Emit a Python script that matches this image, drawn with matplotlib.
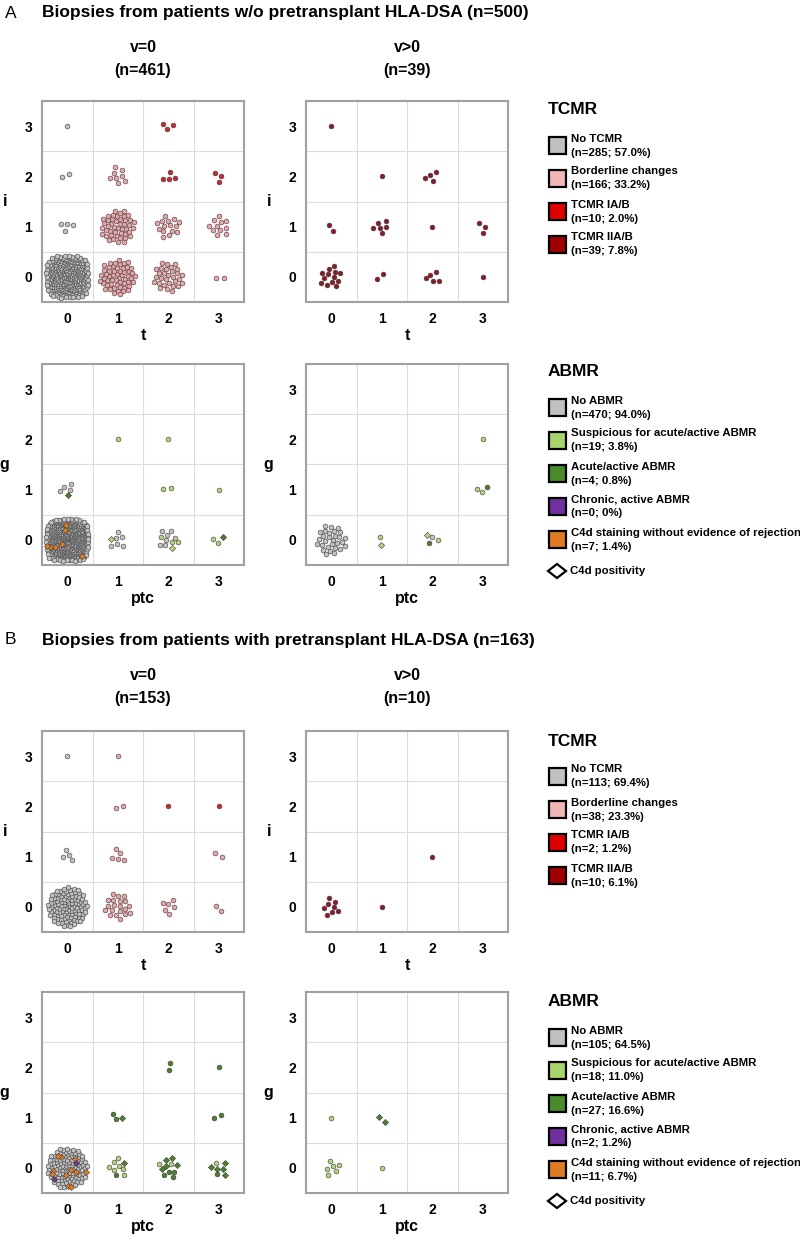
import numpy as np
import matplotlib
matplotlib.use("Agg")
import matplotlib.pyplot as plt
from matplotlib.patches import Rectangle, Polygon

plt.rcParams['font.family'] = ['Liberation Sans', 'DejaVu Sans']

# ---------------- data ----------------
TICKS = [0, 1, 2, 3]

TCMR_LABELS = ["No TCMR", "Borderline changes", "TCMR IA/B", "TCMR IIA/B"]
TCMR_N_A = [285, 166, 10, 39]
TCMR_PCT_A = ["57.0%", "33.2%", "2.0%", "7.8%"]
TCMR_N_B = [113, 38, 2, 10]
TCMR_PCT_B = ["69.4%", "23.3%", "1.2%", "6.1%"]

ABMR_LABELS = ["No ABMR", "Suspicious for acute/active ABMR", "Acute/active ABMR",
               "Chronic, active ABMR", "C4d staining without evidence of rejection"]
ABMR_N_A = [470, 19, 4, 0, 7]
ABMR_PCT_A = ["94.0%", "3.8%", "0.8%", "0%", "1.4%"]
ABMR_N_B = [105, 18, 27, 2, 11]
ABMR_PCT_B = ["64.5%", "11.0%", "16.6%", "1.2%", "6.7%"]

# TCMR cells: (t, i, category, count)
A_TCMR_V0 = [(0, 3, 0, 1), (0, 2, 0, 2), (0, 1, 0, 4), (0, 0, 0, 278),
             (1, 2, 1, 8), (1, 1, 1, 45), (1, 0, 1, 55), (2, 1, 1, 15), (2, 0, 1, 30),
             (3, 1, 1, 11), (3, 0, 1, 2),
             (2, 3, 2, 3), (2, 2, 2, 4), (3, 2, 2, 3)]
A_TCMR_V1 = [(0, 3, 3, 1), (1, 2, 3, 1), (2, 2, 3, 4), (0, 1, 3, 2), (1, 1, 3, 6),
             (2, 1, 3, 1), (3, 1, 3, 3), (0, 0, 3, 13), (1, 0, 3, 2), (2, 0, 3, 5),
             (3, 0, 3, 1)]
B_TCMR_V0 = [(0, 3, 0, 1), (0, 1, 0, 4), (0, 0, 0, 108),
             (1, 3, 1, 1), (1, 2, 1, 2), (1, 1, 1, 5), (3, 1, 1, 2), (1, 0, 1, 20),
             (2, 0, 1, 6), (3, 0, 1, 2),
             (2, 2, 2, 1), (3, 2, 2, 1)]
B_TCMR_V1 = [(0, 0, 3, 8), (1, 0, 3, 1), (2, 1, 3, 1)]

# ABMR cells: (ptc, g, category, circles, diamonds[C4d positive])
A_ABMR_V0 = [(0, 1, 0, 4, 0), (0, 1, 2, 0, 1),
             (0, 0, 0, 423, 0), (0, 0, 4, 0, 7),
             (1, 0, 0, 6, 0), (1, 0, 1, 0, 1),
             (2, 0, 0, 7, 0), (2, 0, 1, 3, 1),
             (3, 0, 1, 2, 0), (3, 0, 2, 0, 1),
             (1, 2, 1, 1, 0), (2, 2, 1, 1, 0), (2, 1, 1, 2, 0), (3, 1, 1, 1, 0)]
A_ABMR_V1 = [(0, 0, 0, 29, 0), (2, 0, 0, 1, 0), (2, 0, 2, 1, 0), (2, 0, 1, 1, 1),
             (1, 0, 1, 1, 1), (3, 2, 1, 1, 0), (3, 1, 1, 2, 0), (3, 1, 2, 1, 0)]
B_ABMR_V0 = [(0, 0, 0, 105, 0), (0, 0, 4, 0, 11), (0, 0, 3, 0, 2),
             (1, 0, 1, 7, 0), (2, 0, 1, 2, 0), (3, 0, 1, 1, 0),
             (1, 1, 2, 2, 1), (2, 2, 2, 2, 0), (3, 2, 2, 1, 0), (3, 1, 2, 2, 0),
             (1, 0, 2, 1, 1), (2, 0, 2, 4, 5), (3, 0, 2, 1, 5)]
B_ABMR_V1 = [(0, 1, 1, 1, 0), (0, 0, 1, 6, 0), (1, 0, 1, 1, 0), (1, 1, 2, 0, 2)]

# ---------------- styles ----------------
TCMR_DOT = ["#c2c2c2", "#eba4a7", "#cc2533", "#8a1a2a"]
TCMR_BOX = ["#c0c0c0", "#f2b6b6", "#e00000", "#a00000"]
ABMR_DOT = ["#c2c2c2", "#b3d27a", "#4f7f2e", "#6a3a9a", "#e07b25"]
ABMR_BOX = ["#c0c0c0", "#a8d46c", "#4a8c2a", "#7030a0", "#e07b25"]
EDGE = "#3c3c3c"

W, H = 800, 1236
fig = plt.figure(figsize=(W / 100, H / 100), dpi=100)

ov = fig.add_axes([0, 0, 1, 1], zorder=0)
ov.set_xlim(0, W)
ov.set_ylim(H, 0)
ov.set_axis_off()
ov.patch.set_visible(False)

GOLD = np.pi * (3 - np.sqrt(5))


def pack(n, phase, c=0.072, rmax=0.42):
    """Deterministic sunflower packing of n markers around a cell centre."""
    if n <= 1:
        return np.zeros(n), np.zeros(n)
    k = np.arange(n)
    r_out = rmax * np.tanh(c * np.sqrt(n) / rmax)
    ce = r_out / np.sqrt(n - 0.5)
    r = ce * np.sqrt(k + 0.5)
    th = k * GOLD + phase
    if n > 200:
        f = 1 / (np.abs(np.cos(th)) ** 4 + np.abs(np.sin(th)) ** 4) ** 0.25
        r = r * f
    return r * np.cos(th), r * np.sin(th)


def draw_panel(ax, cells, colors, abmr, xlabel, ylabel):
    groups = {}
    for cell in cells:
        if abmr:
            x, y, cat, nc, nd = cell
            entries = [(cat, 'o', nc), (cat, 'D', nd)]
        else:
            x, y, cat, nc = cell
            entries = [(cat, 'o', nc)]
        groups.setdefault((x, y), [])
        for e in entries:
            if e[2] > 0:
                groups[(x, y)].append(e)
    pts = {}
    for ci, ((x, y), entries) in enumerate(groups.items()):
        items = []
        for gi, (cat, mk, n) in enumerate(entries):
            for j in range(n):
                items.append(((j + 0.5) / n + gi * 1e-4, cat, mk))
        items.sort(key=lambda t: t[0])
        dx, dy = pack(len(items), phase=0.9 * ci + 0.3 * x)
        for (key, cat, mk), ox, oy in zip(items, dx, dy):
            pts.setdefault((cat, mk), ([], []))
            pts[(cat, mk)][0].append(x + ox)
            pts[(cat, mk)][1].append(y + oy)
    for (cat, mk), (xs, ys) in sorted(pts.items(), key=lambda t: (t[0][0] != 0, t[0][1] == 'D')):
        ax.scatter(xs, ys, s=12 if mk == 'o' else 10, marker=mk, c=colors[cat],
                   edgecolors=EDGE, linewidths=0.4, zorder=3 if cat == 0 else 4)

    ax.set_xlim(-0.5, 3.5)
    ax.set_ylim(-0.5, 3.5)
    ax.set_xticks(TICKS)
    ax.set_yticks(TICKS)
    ax.set_xticklabels([str(t) for t in TICKS], fontsize=10, fontweight='bold')
    ax.set_yticklabels([str(t) for t in TICKS], fontsize=10, fontweight='bold')
    ax.tick_params(length=0)
    ax.tick_params(axis='x', pad=7)
    ax.tick_params(axis='y', pad=7)
    for b in [0.5, 1.5, 2.5]:
        ax.axvline(b, color="#dcdcdc", lw=0.8, zorder=1)
        ax.axhline(b, color="#dcdcdc", lw=0.8, zorder=1)
    for s in ax.spines.values():
        s.set_color("#a0a0a0")
        s.set_linewidth(1.5)
    ax.set_xlabel(xlabel, fontsize=11.5, fontweight='bold')
    ax.set_ylabel(ylabel, fontsize=11.5, fontweight='bold', rotation=0)
    ax.xaxis.label.set_va('center')
    ax.yaxis.label.set_va('center')
    ax.yaxis.label.set_ha('center')
    ax.xaxis.set_label_coords(0.5, -0.168)
    ax.yaxis.set_label_coords(-0.185, 0.5)


def make_ax(x0, y0, w, h):
    return fig.add_axes([x0 / W, 1 - (y0 + h) / H, w / W, h / H], zorder=2)


PW, PH = 202, 201
panels = [
    (42, 101, A_TCMR_V0, TCMR_DOT, False, "t", "i"),
    (306, 101, A_TCMR_V1, TCMR_DOT, False, "t", "i"),
    (42, 364, A_ABMR_V0, ABMR_DOT, True, "ptc", "g"),
    (306, 364, A_ABMR_V1, ABMR_DOT, True, "ptc", "g"),
    (42, 731, B_TCMR_V0, TCMR_DOT, False, "t", "i"),
    (306, 731, B_TCMR_V1, TCMR_DOT, False, "t", "i"),
    (42, 992, B_ABMR_V0, ABMR_DOT, True, "ptc", "g"),
    (306, 992, B_ABMR_V1, ABMR_DOT, True, "ptc", "g"),
]
for x0, y0, cells, cols, abmr, xl, yl in panels:
    ax = make_ax(x0, y0, PW, PH)
    draw_panel(ax, cells, cols, abmr, xl, yl)


# ---------------- titles ----------------
def section(y, letter, title, n0, n1):
    ov.text(5, y, letter, fontsize=12.5, ha='left', va='center')
    ov.text(42, y, title, fontsize=12.5, fontweight='bold', ha='left', va='center')
    ov.text(143, y + 35, "v=0", fontsize=11.5, fontweight='bold', ha='center', va='center')
    ov.text(143, y + 58, f"(n={n0})", fontsize=11.5, fontweight='bold', ha='center', va='center')
    ov.text(407, y + 35, "v>0", fontsize=11.5, fontweight='bold', ha='center', va='center')
    ov.text(407, y + 58, f"(n={n1})", fontsize=11.5, fontweight='bold', ha='center', va='center')


section(13, "A", "Biopsies from patients w/o pretransplant HLA-DSA (n=500)", 461, 39)
section(640, "B", "Biopsies from patients with pretransplant HLA-DSA (n=163)", 153, 10)


# ---------------- legends ----------------
def legend(y_head, heading, labels, counts, pcts, boxcols, diamond):
    ov.text(548, y_head, heading, fontsize=12.5, fontweight='bold', ha='left', va='center')
    top = y_head + 27
    for k, (lab, n, p, col) in enumerate(zip(labels, counts, pcts, boxcols)):
        yt = top + 33 * k
        ov.add_patch(Rectangle((549, yt), 17, 17, facecolor=col, edgecolor='black', lw=1.6))
        ov.text(571, yt + 1.5, lab, fontsize=8.2, fontweight='bold', ha='left', va='center')
        ov.text(571, yt + 15.5, f"(n={n}; {p})", fontsize=8.2, fontweight='bold',
                ha='left', va='center')
    if diamond:
        yc = top + 33 * len(labels) + 7
        ov.add_patch(Polygon([(548, yc), (557, yc - 7), (566, yc), (557, yc + 7)],
                             closed=True, facecolor='white', edgecolor='black', lw=1.6))
        ov.text(570, yc, "C4d positivity", fontsize=8.2, fontweight='bold',
                ha='left', va='center')


legend(110, "TCMR", TCMR_LABELS, TCMR_N_A, TCMR_PCT_A, TCMR_BOX, False)
legend(372, "ABMR", ABMR_LABELS, ABMR_N_A, ABMR_PCT_A, ABMR_BOX, True)
legend(741, "TCMR", TCMR_LABELS, TCMR_N_B, TCMR_PCT_B, TCMR_BOX, False)
legend(1002, "ABMR", ABMR_LABELS, ABMR_N_B, ABMR_PCT_B, ABMR_BOX, True)

fig.savefig("out.png", dpi=100)
